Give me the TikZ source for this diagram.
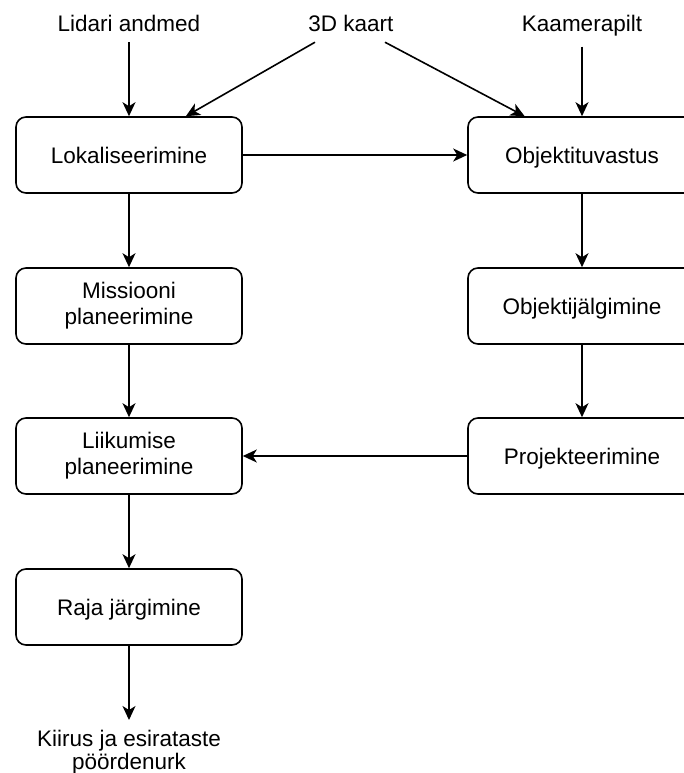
\documentclass[tikz,border=0pt]{standalone}
\usepackage{fontspec}
\setmainfont{Liberation Sans}
\usetikzlibrary{arrows.meta,calc}
\newcommand{\capstrut}{\rule[-4pt]{0pt}{25pt}}
\begin{document}
\begin{tikzpicture}[x=1pt,y=-1pt, line width=1.6pt,
    box/.style={draw, rounded corners=10pt, minimum width=226pt, minimum height=76pt, align=center,
      execute at begin node=\capstrut, execute at end node=\capstrut},
    lbl/.style={inner sep=0pt, outer sep=10pt, align=center},
    >={Stealth[length=14pt,width=13pt,inset=4pt]},
    font=\fontsize{22.5}{26}\selectfont]
        \useasboundingbox (0,0) rectangle (684,773);
        \clip (0,0) rectangle (684,773);
        \node at (129,32) [lbl, anchor=base] (lidar) {Lidari andmed};
        \node at (351,32) [lbl, anchor=base] (kaart) {3D kaart};
        \node at (582,32) [lbl, anchor=base] (kaamera) {Kaamerapilt};
        \node at (129,155) [box] (lok) {Lokaliseerimine};
        \node at (582,155) [box, minimum width=228pt] (tuv) {Objektituvastus};
        \node at (129,306) [box] (mis) {Missiooni\\planeerimine};
        \node at (582,306) [box, minimum width=228pt] (jal) {Objektijälgimine};
        \node at (129,456) [box] (liik) {Liikumise\\planeerimine};
        \node at (582,456) [box, minimum width=228pt] (proj) {Projekteerimine};
        \node at (129,607) [box] (raja) {Raja järgimine};
        \node at (129,730) [lbl, anchor=north, outer sep=0pt, font=\fontsize{22.5}{23}\selectfont] (kiirus) {Kiirus ja esirataste\\pöördenurk};
        \draw[->] (lidar) -- (lok);
        \draw[->] ([xshift=-36pt]kaart.south) -- ($(lok.north)!0.5!(lok.north east)$);
        \draw[->] ([xshift=34pt]kaart.south) -- ($(tuv.north west)!0.5!(tuv.north)$);
        \draw[->] (kaamera) -- (tuv);
        \draw[->] (lok) -- (tuv);
        \draw[->] (lok) -- (mis);
        \draw[->] (mis) -- (liik);
        \draw[->] (liik) -- (raja);
        \draw[->] (raja) -- ([yshift=10pt]kiirus.north);
        \draw[->] (tuv) -- (jal);
        \draw[->] (jal) -- (proj);
        \draw[->] (proj) -- (liik);
      \end{tikzpicture}
\end{document}
